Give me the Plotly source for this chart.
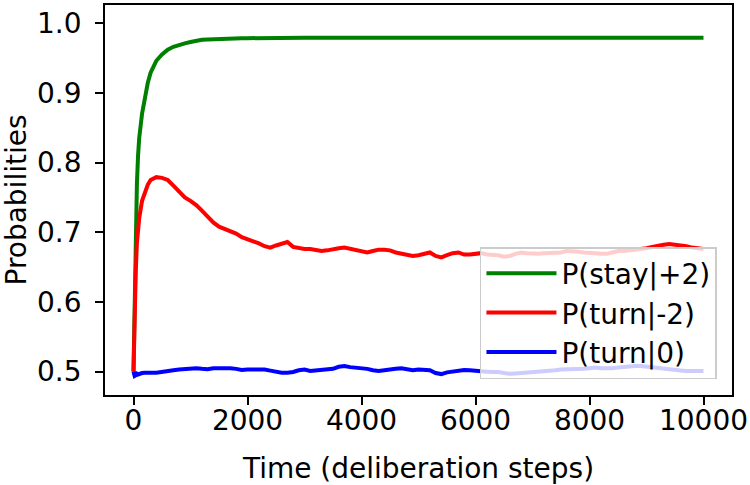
import plotly.graph_objects as go

# ---- data ----
TIME_EARLY = [0, 20, 40, 60, 80, 100, 150, 200, 250]
TIME_LATE = list(range(300, 10001, 100))
TIME = TIME_EARLY + TIME_LATE

SERIES_NAMES = ["P(stay|+2)", "P(turn|-2)", "P(turn|0)"]
SERIES_COLORS = ["#008000", "#ff0000", "#0000ff"]

P_STAY_PLUS2 = [
    0.500, 0.620, 0.710, 0.770, 0.810, 0.835, 0.870, 0.895, 0.914,
    # 300 .. 900
    0.929, 0.946, 0.955, 0.962, 0.966, 0.969, 0.971,
    # 1000 .. 1900
    0.973, 0.975, 0.976, 0.9765, 0.977, 0.9775, 0.978, 0.978, 0.978, 0.9782,
    # 2000 .. 2900
    0.9784, 0.9786, 0.9787, 0.9788, 0.9789, 0.979, 0.979, 0.979, 0.979, 0.979,
    # 3000 .. 3900
    0.979, 0.979, 0.979, 0.979, 0.979, 0.979, 0.979, 0.979, 0.979, 0.979,
    # 4000 .. 4900
    0.979, 0.979, 0.979, 0.979, 0.979, 0.979, 0.979, 0.979, 0.979, 0.979,
    # 5000 .. 5900
    0.979, 0.979, 0.979, 0.979, 0.979, 0.979, 0.979, 0.979, 0.979, 0.979,
    # 6000 .. 6900
    0.979, 0.979, 0.979, 0.979, 0.979, 0.979, 0.979, 0.979, 0.979, 0.979,
    # 7000 .. 7900
    0.979, 0.979, 0.979, 0.979, 0.979, 0.979, 0.979, 0.979, 0.979, 0.979,
    # 8000 .. 8900
    0.979, 0.979, 0.979, 0.979, 0.979, 0.979, 0.979, 0.979, 0.979, 0.979,
    # 9000 .. 10000
    0.979, 0.979, 0.979, 0.979, 0.979, 0.979, 0.979, 0.979, 0.979, 0.979, 0.979,
]

P_TURN_MINUS2 = [
    0.500, 0.600, 0.645, 0.685, 0.705, 0.720, 0.745, 0.758, 0.768,
    # 300 .. 900
    0.775, 0.779, 0.778, 0.775, 0.767, 0.759, 0.750,
    # 1000 .. 1900
    0.745, 0.739, 0.731, 0.722, 0.714, 0.708, 0.705, 0.701, 0.698, 0.693,
    # 2000 .. 2900
    0.690, 0.688, 0.684, 0.680, 0.678, 0.681, 0.683, 0.686, 0.679, 0.677,
    # 3000 .. 3900
    0.676, 0.676, 0.674, 0.673, 0.674, 0.676, 0.677, 0.678, 0.676, 0.674,
    # 4000 .. 4900
    0.673, 0.671, 0.673, 0.675, 0.675, 0.674, 0.671, 0.669, 0.667, 0.666,
    # 5000 .. 5900
    0.667, 0.669, 0.671, 0.666, 0.664, 0.667, 0.670, 0.671, 0.668, 0.668,
    # 6000 .. 6900
    0.669, 0.670, 0.668, 0.668, 0.667, 0.665, 0.666, 0.669, 0.671, 0.670,
    # 7000 .. 7900
    0.669, 0.669, 0.670, 0.670, 0.670, 0.671, 0.673, 0.673, 0.672, 0.671,
    # 8000 .. 8900
    0.671, 0.670, 0.669, 0.669, 0.671, 0.673, 0.673, 0.674, 0.674, 0.675,
    # 9000 .. 10000
    0.677, 0.679, 0.681, 0.682, 0.683, 0.682, 0.682, 0.680, 0.678, 0.677, 0.676,
]

P_TURN_ZERO = [
    0.500, 0.494, 0.495, 0.497, 0.496, 0.497, 0.498, 0.4985, 0.498,
    # 300 .. 900
    0.4985, 0.4985, 0.500, 0.501, 0.502, 0.503, 0.5035,
    # 1000 .. 1900
    0.504, 0.505, 0.504, 0.5035, 0.505, 0.505, 0.506, 0.505, 0.504, 0.5025,
    # 2000 .. 2900
    0.503, 0.503, 0.5025, 0.503, 0.5015, 0.500, 0.4985, 0.4985, 0.4995, 0.502,
    # 3000 .. 3900
    0.503, 0.501, 0.502, 0.503, 0.503, 0.504, 0.507, 0.508, 0.5065, 0.506,
    # 4000 .. 4900
    0.505, 0.504, 0.502, 0.501, 0.502, 0.5035, 0.504, 0.505, 0.503, 0.502,
    # 5000 .. 5900
    0.503, 0.503, 0.502, 0.498, 0.4965, 0.499, 0.500, 0.502, 0.5024, 0.502,
    # 6000 .. 6900
    0.501, 0.501, 0.500, 0.4995, 0.4995, 0.498, 0.497, 0.4975, 0.498, 0.4995,
    # 7000 .. 7900
    0.500, 0.500, 0.501, 0.501, 0.502, 0.503, 0.503, 0.5035, 0.5035, 0.504,
    # 8000 .. 8900
    0.505, 0.506, 0.505, 0.5045, 0.505, 0.506, 0.507, 0.5075, 0.508, 0.508,
    # 9000 .. 10000
    0.507, 0.506, 0.505, 0.5035, 0.503, 0.502, 0.5015, 0.501, 0.501, 0.501, 0.501,
]

X_TICKS = [0, 2000, 4000, 6000, 8000, 10000]
X_TICK_LABELS = ["0", "2000", "4000", "6000", "8000", "10000"]
Y_TICKS = [0.5, 0.6, 0.7, 0.8, 0.9, 1.0]
Y_TICK_LABELS = ["0.5", "0.6", "0.7", "0.8", "0.9", "1.0"]

for s in (P_STAY_PLUS2, P_TURN_MINUS2, P_TURN_ZERO):
    assert len(s) == len(TIME), (len(s), len(TIME))

FONT = "DejaVu Sans"
FS = 28

fig = go.Figure()
for name, color, vals in zip(SERIES_NAMES, SERIES_COLORS,
                             [P_STAY_PLUS2, P_TURN_MINUS2, P_TURN_ZERO]):
    fig.add_trace(go.Scatter(x=TIME, y=vals, mode="lines", name=name,
                             line=dict(color=color, width=4)))

axis_common = dict(showline=True, linecolor="black", linewidth=1.8, mirror=True,
                   ticks="outside", ticklen=8, tickwidth=1.8, tickcolor="black",
                   showgrid=False, zeroline=False, automargin=False,
                   ticklabeloverflow="allow",
                   tickfont=dict(family=FONT, size=FS, color="black"))

fig.update_layout(
    width=750, height=485,
    margin=dict(l=105, r=18, t=5, b=90),
    paper_bgcolor="white", plot_bgcolor="white",
    font=dict(family=FONT, size=FS, color="black"),
    xaxis=dict(range=[-500, 10500], tickvals=X_TICKS, ticktext=X_TICK_LABELS,
               ticklabelstandoff=-9,
               title=dict(text="Time (deliberation steps)", font=dict(family=FONT, size=FS), standoff=24),
               **axis_common),
    yaxis=dict(range=[0.4665, 1.026], tickvals=Y_TICKS, ticktext=Y_TICK_LABELS,
               ticklabelstandoff=8,
               title=dict(text="Probabilities", font=dict(family=FONT, size=FS), standoff=8),
               **axis_common),
    legend=dict(x=0.976, y=0.041, xanchor="right", yanchor="bottom",
                bgcolor="rgba(255,255,255,0.8)", bordercolor="#cccccc", borderwidth=1.5,
                font=dict(family=FONT, size=FS, color="black"),
                itemwidth=70),
    showlegend=True,
)

fig.write_html("out.html", config={"displayModeBar": False},
               post_script="document.body.style.margin='0';")
